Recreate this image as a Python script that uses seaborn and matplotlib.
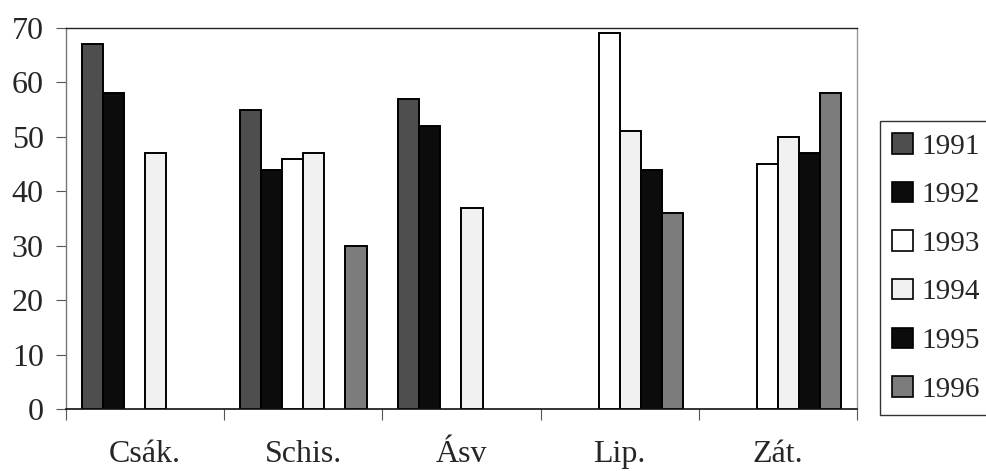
import numpy as np
import pandas as pd
import matplotlib
matplotlib.use("Agg")
import matplotlib.pyplot as plt
import seaborn as sns
from matplotlib.patches import Patch

# Sites and yearly values (missing years left as NaN)
sites = ["Csák.", "Schis.", "Ásv", "Lip.", "Zát."]
years = ["1991", "1992", "1993", "1994", "1995", "1996"]
v1991 = [67, 55, 57, np.nan, np.nan]
v1992 = [58, 44, 52, np.nan, np.nan]
v1993 = [np.nan, 46, np.nan, 69, 45]
v1994 = [47, 47, 37, 51, 50]
v1995 = [np.nan, np.nan, np.nan, 44, 47]
v1996 = [np.nan, 30, np.nan, 36, 58]
y_ticks = [0, 10, 20, 30, 40, 50, 60, 70]

series = [v1991, v1992, v1993, v1994, v1995, v1996]
rows = []
for yr, vals in zip(years, series):
    for site, v in zip(sites, vals):
        rows.append({"site": site, "year": yr, "value": v})
df = pd.DataFrame(rows).dropna()

fills = {"1991": "#4e4e4e", "1992": "#0c0c0c", "1993": "#ffffff",
         "1994": "#f1f1f1", "1995": "#0c0c0c", "1996": "#7c7c7c"}

sns.set_style("white")
plt.rcParams["font.family"] = ["Liberation Serif", "DejaVu Serif"]

fig = plt.figure(figsize=(9.87, 4.71), dpi=100)
ax = fig.add_axes([66 / 987, 1 - 409 / 471, (857 - 66) / 987, (409 - 28) / 471])

sns.barplot(data=df, x="site", y="value", hue="year", order=sites,
            hue_order=years, palette=fills, width=0.8, saturation=1,
            edgecolor="black", linewidth=1.4, errorbar=None, legend=False,
            ax=ax)

ax.set_xlim(-0.5, len(sites) - 0.5)
ax.set_ylim(0, 70)
ax.set_yticks(y_ticks)
ax.set_yticklabels([str(t) for t in y_ticks], fontsize=23)
ax.set_xticks(range(len(sites)))
ax.set_xticklabels(sites, fontsize=23)
ax.set_xticks(np.arange(-0.5, len(sites), 1.0), minor=True)
ax.tick_params(axis="x", which="major", length=0, pad=22)
ax.tick_params(axis="x", which="minor", length=8, width=0.8, color="#555555",
               direction="out", bottom=True)
ax.tick_params(axis="y", which="major", length=7, width=0.8, color="#555555",
               direction="out", left=True, pad=9)
ax.set_xlabel("")
ax.set_ylabel("")

for side in ["left", "top", "right", "bottom"]:
    ax.spines[side].set_visible(True)
ax.spines["bottom"].set_color("#111111")
ax.spines["bottom"].set_linewidth(1.2)
ax.spines["top"].set_color("#222222")
ax.spines["top"].set_linewidth(1.0)
ax.spines["left"].set_color("#777777")
ax.spines["left"].set_linewidth(1.0)
ax.spines["right"].set_color("#999999")
ax.spines["right"].set_linewidth(1.0)
ax.spines["right"].set_linestyle((0, (2, 1)))

handles = [Patch(facecolor=fills[y], edgecolor="black", linewidth=1.2) for y in years]
leg = fig.legend(handles, years, loc="upper left",
                 bbox_to_anchor=(880 / 987, 1 - 121 / 471),
                 bbox_transform=fig.transFigure, fontsize=21,
                 frameon=True, fancybox=False, edgecolor="black",
                 handlelength=0.7, handleheight=0.7, handletextpad=0.3,
                 labelspacing=0.76, borderpad=0.42, borderaxespad=0)
leg.get_frame().set_linewidth(1.0)

fig.savefig("out.png", dpi=100)
